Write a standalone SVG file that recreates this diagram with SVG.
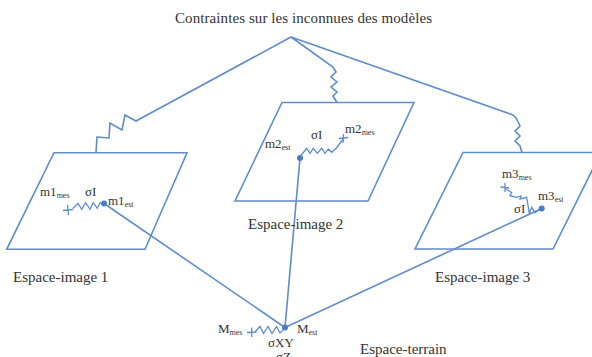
<svg xmlns="http://www.w3.org/2000/svg" width="592" height="357" viewBox="0 0 592 357">
<style>
.ln{fill:none;stroke:#5F8CCB;stroke-width:1.6;stroke-linejoin:miter}
.sp{fill:none;stroke:#5F8CCB;stroke-width:1.3;stroke-linejoin:miter}
.t{font-family:"Liberation Serif","Times New Roman",serif;fill:#333;font-size:13px}
.lb{font-family:"Liberation Serif","Times New Roman",serif;fill:#333;font-size:15px}
.s{font-size:8px}
.dot{fill:#4A7CC0}
</style>
<rect width="592" height="357" fill="#fff"/>
<text id="title" class="lb" x="175" y="23" textLength="257">Contraintes sur les inconnues des modèles</text>
<g id="connectors">
<polyline class="ln" points="291,37 136,121 125,115 122,130 110,123 109,138 97,137 96,152.7"/>
<polyline class="ln" points="291,37 333,67 336,72 331,77 337,82 331,87 337,92 333,96 337,102.5"/>
<polyline class="ln" points="291,37 513,115 516,118 520,126 515,131 520,136 515,141 520,146 522,152.5"/>
<line class="ln" x1="104" y1="203.5" x2="285" y2="327.5"/>
<line class="ln" x1="300" y1="158" x2="285" y2="327.5"/>
<line class="ln" x1="541.7" y1="208.5" x2="285" y2="327.5"/>
</g>
<g id="image1">
<polygon class="ln" points="54,152.7 187,152.7 145,249.3 6.7,249.3"/>
<text class="t" x="40" y="196">m1<tspan class="s" dy="2">mes</tspan></text>
<text class="t" x="85" y="196">σI</text>
<path class="sp" d="M63,210.5 L73,209.5 M67.5,205 L68.5,215"/>
<polyline class="sp" points="73,208.5 78,203.3 81.7,209.3 85.7,202.7 90,209.3 93.3,202.7 97.3,208.3 100,202.7 103.5,203.8"/>
<circle class="dot" cx="104" cy="203.5" r="3"/>
<text class="t" x="108" y="205">m1<tspan class="s" dy="2">est</tspan></text>
<text class="lb" x="13" y="282">Espace-image 1</text>
</g>
<g id="image2">
<polygon class="ln" points="282,102.5 414,102.5 368,201 235,201"/>
<text class="t" x="265" y="148">m2<tspan class="s" dy="2">est</tspan></text>
<circle class="dot" cx="300" cy="158" r="3"/>
<polyline class="sp" points="300.5,156 306.7,148.3 310,153.3 313.3,148.3 317.3,153.3 321.7,148.3 325,153.3 328.3,149 331.7,152.3 336.7,147.7 343,139"/>
<path class="sp" d="M339,138.5 L348,137.5 M343.5,134 L343,143"/>
<text class="t" x="311" y="139">σI</text>
<text class="t" x="345" y="133">m2<tspan class="s" dy="2">mes</tspan></text>
<text class="lb" x="248" y="229">Espace-image 2</text>
</g>
<g id="image3">
<polygon class="ln" points="463,152.5 601,152.5 553,249 415,249"/>
<text class="t" x="502" y="178">m3<tspan class="s" dy="2">mes</tspan></text>
<path class="sp" d="M500.5,187 L509.5,188 M505,183 L505,192"/>
<polyline class="sp" points="506,189 511.7,192.7 510,195.7 516.7,197.3 521,196 520,199 526.7,197.3 529.3,213.3 531.7,207.3 535,212.7 541,208.5"/>
<text class="t" x="514" y="213">σI</text>
<circle class="dot" cx="541.7" cy="208.5" r="3"/>
<text class="t" x="538" y="200">m3<tspan class="s" dy="2">est</tspan></text>
<text class="lb" x="435" y="282">Espace-image 3</text>
</g>
<g id="terrain">
<text class="t" x="218" y="333">M<tspan class="s" dy="2">mes</tspan></text>
<path class="sp" d="M247,332.5 L256.5,332 M251.7,327.5 L251.7,337"/>
<polyline class="sp" points="255,332 260,326.5 263.5,333.5 268,326.5 272,333.5 276.5,326.5 280,333 285,328"/>
<circle class="dot" cx="285" cy="327.5" r="3"/>
<text class="t" x="297" y="333">M<tspan class="s" dy="2">est</tspan></text>
<text class="t" x="268" y="347">σXY</text>
<text class="t" x="276" y="361">σZ</text>
<text class="lb" x="360" y="354">Espace-terrain</text>
</g>
</svg>
